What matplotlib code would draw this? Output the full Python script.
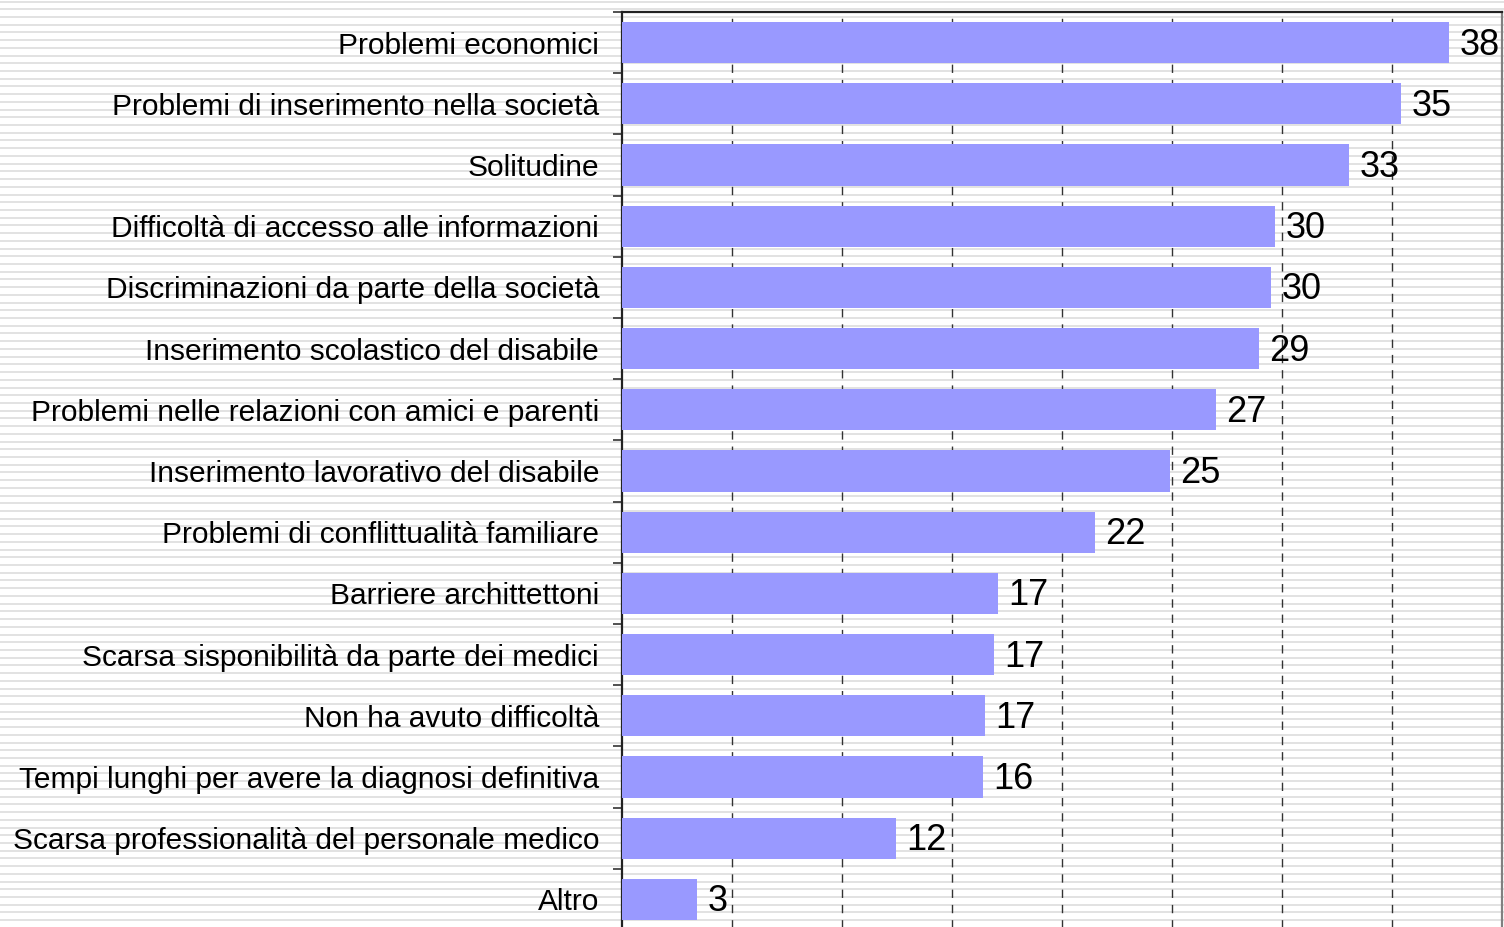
import numpy as np
import matplotlib.pyplot as plt
import matplotlib as mpl
from matplotlib.transforms import ScaledTranslation

mpl.rcParams['font.family'] = ['Liberation Sans', 'DejaVu Sans']

categories = [
    "Problemi economici",
    "Problemi di inserimento nella società",
    "Solitudine",
    "Difficoltà di accesso alle informazioni",
    "Discriminazioni da parte della società",
    "Inserimento scolastico del disabile",
    "Problemi nelle relazioni con amici e parenti",
    "Inserimento lavorativo del disabile",
    "Problemi di conflittualità familiare",
    "Barriere archittettoni",
    "Scarsa sisponibilità da parte dei medici",
    "Non ha avuto difficoltà",
    "Tempi lunghi per avere la diagnosi definitiva",
    "Scarsa professionalità del personale medico",
    "Altro",
]
values = [37.6, 35.4, 33.05, 29.7, 29.5, 28.95, 27.0, 24.9, 21.5, 17.1, 16.9, 16.5, 16.4, 12.45, 3.4]
labels = ["38", "35", "33", "30", "30", "29", "27", "25", "22", "17", "17", "17", "16", "12", "3"]

W, H = 1504, 927
fig = plt.figure(figsize=(W / 100, H / 100), dpi=100)

# striped background
bg = fig.add_axes([0, 0, 1, 1])
bg.set_xlim(0, W)
bg.set_ylim(H, 0)
bg.axis("off")
for y in np.arange(1.5, H, 7.72):
    bg.axhline(y, color="#e2e2e2", lw=1.4, zorder=0)

left, right, top, bottom = 622, 1502, 12, 930
ax = fig.add_axes([left / W, (H - bottom) / H, (right - left) / W, (bottom - top) / H])
ax.set_facecolor("none")

n = len(categories)
y = np.arange(n)
ax.barh(y, values, height=0.67, color="#9999ff", zorder=3)
for yi, v, lab in zip(y, values, labels):
    ax.annotate(lab, (v, yi), xytext=(7.5, -1.8), textcoords="offset points",
                va="center", ha="left", fontsize=26, color="black", zorder=4)

ax.set_xlim(0, 40)
ax.set_ylim(n - 0.5, -0.5)
ax.set_xticks(np.arange(5, 40, 5))
ax.tick_params(axis="x", length=0, labelbottom=False)
ax.xaxis.grid(True, color="#333333", lw=1.0, linestyle=(0, (6, 5)), zorder=1)
ax.set_axisbelow(True)

ax.set_yticks(y)
ax.set_yticklabels(categories, fontsize=21.5)
shift = ScaledTranslation(0, 2 / 100, fig.dpi_scale_trans)
for t in ax.get_yticklabels():
    t.set_transform(t.get_transform() + shift)
ax.tick_params(axis="y", which="major", length=0, pad=16.5)
ax.set_yticks(np.arange(-0.5, n, 1), minor=True)
ax.tick_params(axis="y", which="minor", length=6.5, width=1.2, color="#333333")

for s in ["left", "top"]:
    ax.spines[s].set_color("#222222")
    ax.spines[s].set_linewidth(1.6)
ax.spines["right"].set_color("#808080")
ax.spines["right"].set_linewidth(1.6)
ax.spines["bottom"].set_visible(False)

fig.savefig("out.png", dpi=100)
